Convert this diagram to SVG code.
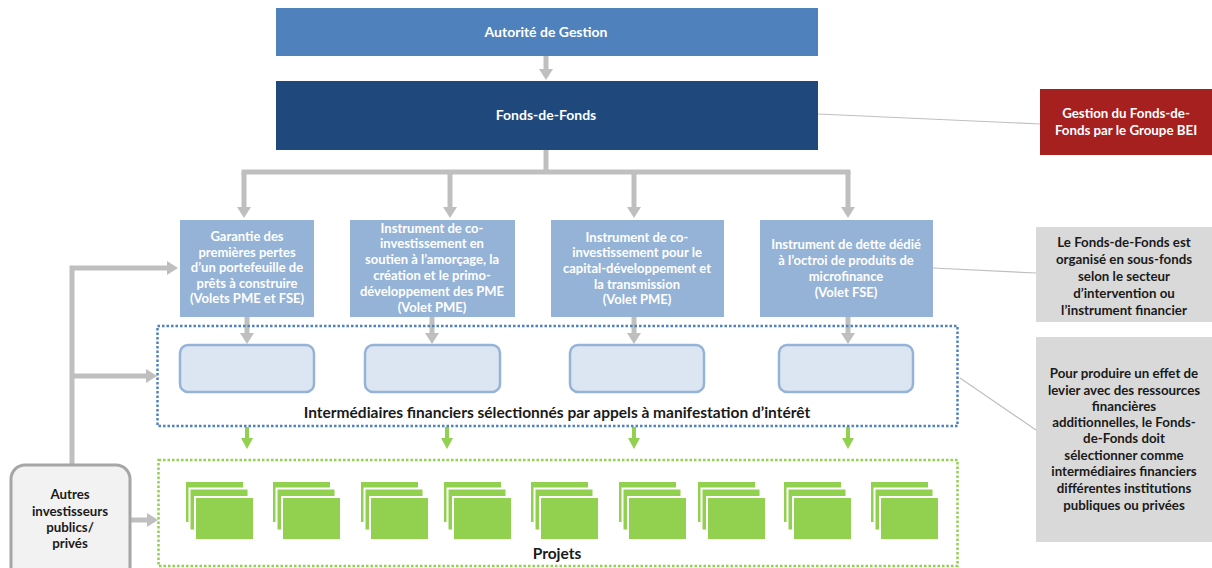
<svg xmlns="http://www.w3.org/2000/svg" xmlns:xlink="http://www.w3.org/1999/xlink" width="1212" height="568" viewBox="0 0 1212 568">
<style>
text{font-family:Lato,"Liberation Sans",sans-serif;font-weight:bold;text-anchor:middle}
.w{fill:#fff;font-size:13px}
.wr{fill:#fff;font-size:13.3px}
.wl{fill:#fff;font-size:14px}
.k{fill:#1a1a1a;font-size:13.3px}
.kl{fill:#1a1a1a;font-size:15.5px}
.sub{fill:#95B3D7}
.inter{fill:#DCE6F2;stroke:#95B3D7;stroke-width:2.5}
.note{fill:#D9D9D9}
.gc{fill:none;stroke:#BFBFBF;stroke-width:5}
.gca{fill:none;stroke:#BFBFBF;stroke-width:5;marker-end:url(#ag)}
.grn{fill:none;stroke:#92D050;stroke-width:4;marker-end:url(#agr)}
.thin{fill:none;stroke:#BFBFBF;stroke-width:1.2}
.pr{fill:#92D050;stroke:#fff;stroke-width:2}
</style>
<defs>
<marker id="ag" markerUnits="userSpaceOnUse" markerWidth="12" markerHeight="16" refX="0" refY="8" orient="auto"><path d="M0,1 L11,8 L0,15 Z" fill="#BFBFBF"/></marker>
<marker id="agr" markerUnits="userSpaceOnUse" markerWidth="12" markerHeight="14" refX="0" refY="7" orient="auto"><path d="M0,1 L11,7 L0,13 Z" fill="#92D050"/></marker>
<g id="stack">
<rect class="pr" x="0" y="0" width="59" height="42"/>
<rect class="pr" x="4.5" y="7.5" width="59" height="42"/>
<rect class="pr" x="10" y="16" width="59" height="43"/>
</g>
</defs>

<g id="connectors">
<path class="gca" d="M546,56 V69"/>
<path class="gc" d="M546,150 V172"/>
<path class="gc" d="M244,172 H848" stroke-linecap="square"/>
<path class="gca" d="M244,172 V207"/>
<path class="gca" d="M450,172 V207"/>
<path class="gca" d="M634,172 V207"/>
<path class="gca" d="M848,172 V207"/>
<path class="gca" d="M247,317 V333"/>
<path class="gca" d="M432,317 V333"/>
<path class="gca" d="M634,317 V333"/>
<path class="gca" d="M848,317 V333"/>
<path class="gca" d="M72,465 V268 H167"/>
<path class="gca" d="M72,376 H146"/>
<path class="gca" d="M130,520 H147"/>
<path class="grn" d="M247,427 V438"/>
<path class="grn" d="M447,427 V438"/>
<path class="grn" d="M634,427 V438"/>
<path class="grn" d="M848,427 V438"/>
<path class="thin" d="M818,114 L1040,124"/>
<path class="thin" d="M933,268 L1036,273"/>
<path class="thin" d="M960,378 L1036,430"/>
</g>

<g id="autorite">
<rect x="276" y="8" width="542" height="48" fill="#4F81BD"/>
<text class="wl" x="546" y="37">Autorité de Gestion</text>
</g>

<g id="fdf">
<rect x="276" y="81" width="542" height="69" fill="#1F497D"/>
<text class="wl" x="546" y="120">Fonds-de-Fonds</text>
</g>

<g id="bei">
<rect x="1040" y="89" width="172" height="66" fill="#A5201F"/>
<text class="wr" x="1126" y="118">Gestion du Fonds-de-</text>
<text class="wr" x="1126" y="135">Fonds par le Groupe BEI</text>
</g>

<g id="sf1">
<rect class="sub" x="180" y="220" width="134" height="97"/>
<text class="w" x="247" y="241">Garantie des</text>
<text class="w" x="247" y="257">premières pertes</text>
<text class="w" x="247" y="272">d’un portefeuille de</text>
<text class="w" x="247" y="288">prêts à construire</text>
<text class="w" x="247" y="303">(Volets PME et FSE)</text>
</g>

<g id="sf2">
<rect class="sub" x="350" y="220" width="165" height="97"/>
<text class="w" x="432" y="233">Instrument de co-</text>
<text class="w" x="432" y="248">investissement en</text>
<text class="w" x="432" y="264">soutien à l’amorçage, la</text>
<text class="w" x="432" y="280">création et le primo-</text>
<text class="w" x="432" y="296">développement des PME</text>
<text class="w" x="432" y="312">(Volet PME)</text>
</g>

<g id="sf3">
<rect class="sub" x="551" y="220" width="173" height="97"/>
<text class="w" x="637" y="242">Instrument de co-</text>
<text class="w" x="637" y="257">investissement pour le</text>
<text class="w" x="637" y="273">capital-développement et</text>
<text class="w" x="637" y="289">la transmission</text>
<text class="w" x="637" y="304">(Volet PME)</text>
</g>

<g id="sf4">
<rect class="sub" x="760" y="220" width="173" height="97"/>
<text class="w" x="846" y="249">Instrument de dette dédié</text>
<text class="w" x="846" y="265">à l’octroi de produits de</text>
<text class="w" x="846" y="281">microfinance</text>
<text class="w" x="846" y="297">(Volet FSE)</text>
</g>

<g id="note1">
<rect class="note" x="1036" y="227" width="176" height="95"/>
<text class="k" x="1124" y="247">Le Fonds-de-Fonds est</text>
<text class="k" x="1124" y="264">organisé en sous-fonds</text>
<text class="k" x="1124" y="281">selon le secteur</text>
<text class="k" x="1124" y="298">d’intervention ou</text>
<text class="k" x="1124" y="315">l’instrument financier</text>
</g>

<g id="note2">
<rect class="note" x="1036" y="337" width="176" height="205"/>
<text class="k" x="1124" y="378">Pour produire un effet de</text>
<text class="k" x="1124" y="395">levier avec des ressources</text>
<text class="k" x="1124" y="411">financières</text>
<text class="k" x="1124" y="427">additionnelles, le Fonds-</text>
<text class="k" x="1124" y="443">de-Fonds doit</text>
<text class="k" x="1124" y="460">sélectionner comme</text>
<text class="k" x="1124" y="476">intermédiaires financiers</text>
<text class="k" x="1124" y="493">différentes institutions</text>
<text class="k" x="1124" y="510">publiques ou privées</text>
</g>

<g id="intermediaires">
<rect x="157.5" y="326" width="800" height="100" fill="none" stroke="#4F81BD" stroke-width="2.5" stroke-dasharray="2.5,2"/>
<rect class="inter" x="180" y="345" width="134" height="47" rx="8"/>
<rect class="inter" x="365" y="345" width="135" height="47" rx="8"/>
<rect class="inter" x="570" y="345" width="134" height="47" rx="8"/>
<rect class="inter" x="779" y="345" width="134" height="47" rx="8"/>
<text class="kl" x="557" y="418">Intermédiaires financiers sélectionnés par appels à manifestation d’intérêt</text>
</g>

<g id="projets">
<rect x="158.5" y="460" width="799" height="106" fill="none" stroke="#92D050" stroke-width="2.5" stroke-dasharray="2.5,2"/>
<use xlink:href="#stack" x="185" y="481"/>
<use xlink:href="#stack" x="272" y="481"/>
<use xlink:href="#stack" x="360" y="481"/>
<use xlink:href="#stack" x="443" y="481"/>
<use xlink:href="#stack" x="530" y="481"/>
<use xlink:href="#stack" x="618" y="481"/>
<use xlink:href="#stack" x="697" y="481"/>
<use xlink:href="#stack" x="783" y="481"/>
<use xlink:href="#stack" x="870" y="481"/>
<text class="kl" x="557" y="559">Projets</text>
</g>

<g id="autres">
<rect x="11" y="465" width="119" height="120" rx="14" fill="#F2F2F2" stroke="#A6A6A6" stroke-width="3"/>
<text class="k" x="70" y="499">Autres</text>
<text class="k" x="70" y="516">investisseurs</text>
<text class="k" x="70" y="532">publics/</text>
<text class="k" x="70" y="548">privés</text>
</g>
</svg>
